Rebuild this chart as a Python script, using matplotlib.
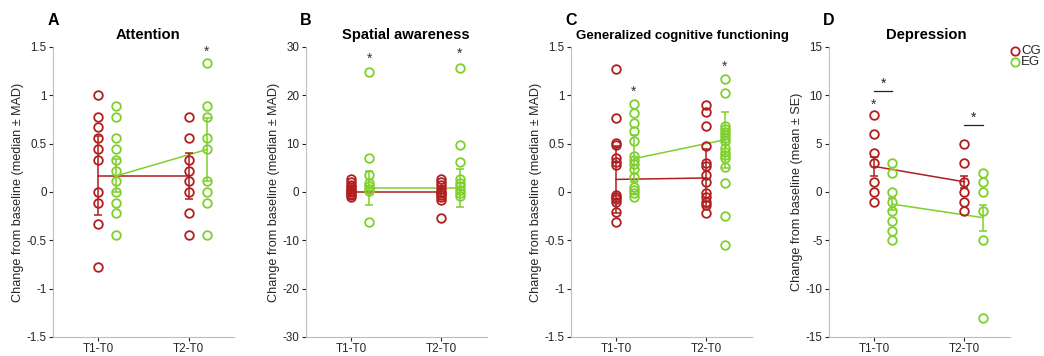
import numpy as np
import matplotlib.pyplot as plt
from matplotlib.lines import Line2D

plt.rcParams['font.family'] = ['Liberation Sans', 'DejaVu Sans']
plt.rcParams['axes.unicode_minus'] = False

CG_COLOR = '#b01e1e'
EG_COLOR = '#7fd02c'

# x positions: T1-T0 at 1, T2-T0 at 2, EG shifted right
TIMES = ['T1-T0', 'T2-T0']
EG_SHIFT = 0.2

# A: attention
att_cg_t1 = [1.0, 0.78, 0.67, 0.56, 0.44, 0.33, 0.0, -0.11, -0.33, -0.78]
att_eg_t1 = [0.89, 0.78, 0.56, 0.44, 0.33, 0.22, 0.11, 0.0, -0.11, -0.22, -0.44]
att_cg_t2 = [0.78, 0.56, 0.33, 0.22, 0.11, 0.0, -0.22, -0.44]
att_eg_t2 = [1.33, 0.89, 0.78, 0.56, 0.44, 0.11, 0.0, -0.11, -0.44]
att_cg_center = [0.167, 0.167]
att_cg_err = [0.41, 0.24]
att_eg_center = [0.167, 0.44]
att_eg_err = [0.17, 0.33]

# B: spatial awareness
spa_cg_t1 = [2.7, 2.1, 1.4, 1.0, 0.7, 0.3, 0.0, -0.4, -0.7, -1.0]
spa_eg_t1 = [24.8, 7.1, 3.6, 1.8, 1.2, 0.6, 0.2, -6.2]
spa_cg_t2 = [2.7, 2.0, 1.4, 0.7, 0.0, -0.3, -0.7, -1.0, -1.6, -5.3]
spa_eg_t2 = [25.7, 9.7, 6.2, 2.6, 1.9, 1.2, 0.5, -0.2, -0.9]
spa_cg_center = [0.0, 0.0]
spa_cg_err = [0.9, 1.0]
spa_eg_center = [0.9, 0.9]
spa_eg_err = [3.5, 3.95]

# C: generalized cognitive functioning
gcf_cg_t1 = [1.27, 0.77, 0.51, 0.49, 0.35, 0.31, 0.28, -0.03, -0.05, -0.07, -0.1, -0.21, -0.31]
gcf_eg_t1 = [0.91, 0.82, 0.71, 0.63, 0.53, 0.37, 0.33, 0.29, 0.24, 0.16, 0.05, 0.02, -0.01, -0.05]
gcf_cg_t2 = [0.9, 0.83, 0.68, 0.48, 0.3, 0.27, 0.18, 0.1, -0.01, -0.05, -0.1, -0.13, -0.22]
gcf_eg_t2 = [1.17, 1.02, 0.68, 0.65, 0.62, 0.59, 0.56, 0.53, 0.45, 0.41, 0.38, 0.35, 0.26, 0.09, -0.25, -0.55]
gcf_cg_center = [0.13, 0.145]
gcf_cg_err = [0.35, 0.3]
gcf_eg_center = [0.345, 0.54]
gcf_eg_err = [0.24, 0.29]

# D: depression
dep_cg_t1 = [8, 6, 4, 3, 1, 0, -1]
dep_eg_t1 = [3, 2, 0, -1, -2, -3, -4, -5]
dep_cg_t2 = [5, 3, 1, 0, -1, -2]
dep_eg_t2 = [2, 1, 0, -2, -5, -13]
dep_cg_center = [2.65, 1.05]
dep_cg_err = [0.95, 0.65]
dep_eg_center = [-1.25, -2.65]
dep_eg_err = [0.6, 1.35]

panels = [
    dict(letter='A', title='Attention', title_x=0.525, title_size=10.6,
         ylim=(-1.5, 1.5), yticks=[-1.5, -1, -0.5, 0, 0.5, 1, 1.5],
         ylabel='Change from baseline (median \u00b1 MAD)',
         cg=(att_cg_t1, att_cg_t2), eg=(att_eg_t1, att_eg_t2),
         cgc=att_cg_center, cge=att_cg_err, egc=att_eg_center, ege=att_eg_err,
         stars=[(2 + EG_SHIFT, 1.45)], brackets=[]),
    dict(letter='B', title='Spatial awareness', title_x=0.555, title_size=10.6,
         ylim=(-30, 30), yticks=[-30, -20, -10, 0, 10, 20, 30],
         ylabel='Change from baseline (median \u00b1 MAD)',
         cg=(spa_cg_t1, spa_cg_t2), eg=(spa_eg_t1, spa_eg_t2),
         cgc=spa_cg_center, cge=spa_cg_err, egc=spa_eg_center, ege=spa_eg_err,
         stars=[(1 + EG_SHIFT, 27.6), (2 + EG_SHIFT, 28.5)], brackets=[]),
    dict(letter='C', title='Generalized cognitive functioning', title_x=0.62, title_size=9.5,
         ylim=(-1.5, 1.5), yticks=[-1.5, -1, -0.5, 0, 0.5, 1, 1.5],
         ylabel='Change from baseline (median \u00b1 MAD)',
         cg=(gcf_cg_t1, gcf_cg_t2), eg=(gcf_eg_t1, gcf_eg_t2),
         cgc=gcf_cg_center, cge=gcf_cg_err, egc=gcf_eg_center, ege=gcf_eg_err,
         stars=[(1 + EG_SHIFT, 1.04), (2 + EG_SHIFT, 1.3)], brackets=[]),
    dict(letter='D', title='Depression', title_x=0.54, title_size=10.6,
         ylim=(-15, 15), yticks=[-15, -10, -5, 0, 5, 10, 15],
         ylabel='Change from baseline (mean \u00b1 SE)',
         cg=(dep_cg_t1, dep_cg_t2), eg=(dep_eg_t1, dep_eg_t2),
         cgc=dep_cg_center, cge=dep_cg_err, egc=dep_eg_center, ege=dep_eg_err,
         stars=[(1, 9.0)], brackets=[(1, 10.4), (2, 6.9)]),
]

lefts = [0.0508, 0.2928, 0.5466, 0.7938]
fig = plt.figure(figsize=(10.44, 3.56), dpi=100)

for left, p in zip(lefts, panels):
    ax = fig.add_axes([left, 0.0534, 0.1734, 0.8146])
    x_cg = np.array([1.0, 2.0])
    x_eg = x_cg + EG_SHIFT

    # group centres joined across time points
    ax.plot(x_cg, p['cgc'], color=CG_COLOR, lw=1.1, zorder=2)
    ax.plot(x_eg, p['egc'], color=EG_COLOR, lw=1.1, zorder=2)
    ax.errorbar(x_cg, p['cgc'], yerr=p['cge'], fmt='none', ecolor=CG_COLOR,
                elinewidth=1.1, capsize=3, capthick=1.1, zorder=2)
    ax.errorbar(x_eg, p['egc'], yerr=p['ege'], fmt='none', ecolor=EG_COLOR,
                elinewidth=1.1, capsize=3, capthick=1.1, zorder=2)

    # individual subjects
    for i in range(2):
        ax.plot(np.full(len(p['cg'][i]), x_cg[i]), p['cg'][i], 'o', ms=6.2, mfc='none',
                mec=CG_COLOR, mew=1.3, zorder=3)
        ax.plot(np.full(len(p['eg'][i]), x_eg[i]), p['eg'][i], 'o', ms=6.2, mfc='none',
                mec=EG_COLOR, mew=1.3, zorder=3)

    for sx, sy in p['stars']:
        ax.text(sx, sy, '*', ha='center', va='center', fontsize=10, color='#333333')
    for bx, by in p['brackets']:
        ax.plot([bx, bx + EG_SHIFT], [by, by], color='#222222', lw=0.9)
        span = p['ylim'][1] - p['ylim'][0]
        ax.text(bx + EG_SHIFT / 2, by + span * 0.025, '*', ha='center', va='center',
                fontsize=10, color='#222222')

    ax.set_xlim(0.5, 2.5)
    ax.set_ylim(*p['ylim'])
    ax.set_xticks([1, 2])
    ax.set_xticklabels(TIMES)
    ax.set_yticks(p['yticks'])
    ax.set_yticklabels(['%g' % v for v in p['yticks']])
    ax.tick_params(labelsize=8.4, colors='#262626', length=3, width=0.8, direction='out', pad=1.5)
    for side in ['top', 'right']:
        ax.spines[side].set_visible(False)
    for side in ['left', 'bottom']:
        ax.spines[side].set_color('#bdbdbd')
        ax.spines[side].set_linewidth(0.8)
    ax.set_ylabel(p['ylabel'], fontsize=9.1, color='#262626', labelpad=2)
    ax.set_title(p['title'], fontsize=p['title_size'], fontweight='bold', pad=6, x=p['title_x'])
    ax.text(0.0, 1.093, p['letter'], transform=ax.transAxes, fontsize=11.5,
            fontweight='bold', ha='center', va='center')

# legend outside the last panel
for y, color, name in [(0.858, CG_COLOR, 'CG'), (0.825, EG_COLOR, 'EG')]:
    fig.add_artist(Line2D([0.9725], [y], transform=fig.transFigure, marker='o', ms=6,
                          mfc='none', mec=color, mew=1.3, ls='none'))
    fig.text(0.978, y, name, fontsize=9.5, ha='left', va='center', color='#262626')

fig.savefig('out.png', dpi=100)
